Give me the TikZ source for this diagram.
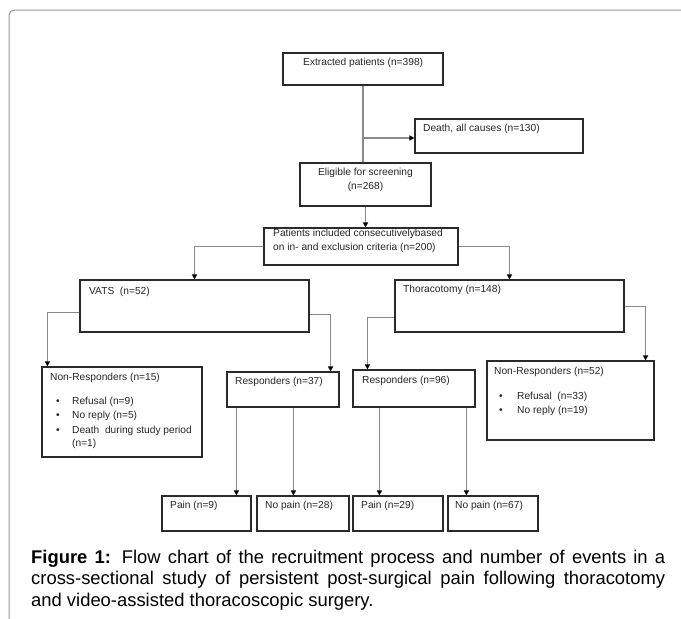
\documentclass[tikz,border=0pt]{standalone}
\usepackage{fontspec}
\setmainfont{Liberation Sans}
\usetikzlibrary{arrows.meta,calc}
\definecolor{conncol}{HTML}{8A8A8A}
\definecolor{boxcol}{HTML}{2A2A2A}
\definecolor{framecol}{HTML}{9A9A9A}
\tikzset{
  box/.style={draw=boxcol, line width=1.1pt, rectangle, inner sep=0pt, fill=white},
  lbl/.style={anchor=west, inner sep=0pt, font=\fontsize{10.2}{12}\selectfont, text=black!85},
  conn/.style={draw=conncol, line width=1.4pt},
  arr/.style={conn, -{Triangle[length=5pt,width=5pt,black]}}
}
\begin{document}
\begin{tikzpicture}[x=1pt,y=-1pt]
\useasboundingbox (0,0) rectangle (681,619);
% outer frame
\draw[framecol, line width=1pt, rounded corners=5pt] (9,619) -- (9,10) -- (681,10);

% boxes
\node[box, minimum width=160pt, minimum height=32pt] (ext) at (363,69) {};
\node[box, minimum width=168pt, minimum height=34pt] (death) at (499,136) {};
\node[box, minimum width=131pt, minimum height=43pt] (elig) at (365.5,184.5) {};
\node[box, minimum width=194pt, minimum height=37pt] (incl) at (361,246.5) {};
\node[box, minimum width=229pt, minimum height=52pt] (vats) at (194.5,306) {};
\node[box, minimum width=229pt, minimum height=52pt] (thor) at (509.5,306) {};
\node[box, minimum width=160pt, minimum height=90pt] (nrv) at (122,412) {};
\node[box, minimum width=112pt, minimum height=35pt] (rv) at (283,389.5) {};
\node[box, minimum width=122pt, minimum height=37pt] (rt) at (414,388.5) {};
\node[box, minimum width=167pt, minimum height=79pt] (nrt) at (570.5,400.5) {};
\node[box, minimum width=89pt, minimum height=35pt] (p9) at (206.5,513.5) {};
\node[box, minimum width=92pt, minimum height=35pt] (np28) at (303,513.5) {};
\node[box, minimum width=90pt, minimum height=35pt] (p29) at (398,513.5) {};
\node[box, minimum width=90pt, minimum height=35pt] (np67) at (493,513.5) {};

% labels
\node[lbl] (t-ext) at (303,63) {Extracted patients (n=398)};
\node[lbl] (t-death) at (423,129) {Death, all causes (n=130)};
\node[lbl, anchor=center, align=center, font=\fontsize{10.2}{13.5}\selectfont] (t-elig) at (365.5,180) {Eligible for screening\\(n=268)};
\node[lbl, align=left, font=\fontsize{10.2}{14}\selectfont] (t-incl) at (273,240.5) {Patients included consecutivelybased\\on in- and exclusion criteria (n=200)};
\node[lbl] (t-vats) at (89,292) {VATS\ \ (n=52)};
\node[lbl] (t-thor) at (403,290) {Thoracotomy (n=148)};
\node[lbl] (t-nrv) at (50,378) {Non-Responders (n=15)};
\node[lbl] (b-nrv1) at (56,402) {\textbullet};
\node[lbl] (b-nrv2) at (56,416) {\textbullet};
\node[lbl] (b-nrv3) at (56,431) {\textbullet};
\node[lbl] (t-nrv1) at (72,402) {Refusal (n=9)};
\node[lbl] (t-nrv2) at (72,416) {No reply (n=5)};
\node[lbl] (t-nrv3) at (72,431) {Death\ \ during study period};
\node[lbl] (t-nrv4) at (72,444) {(n=1)};
\node[lbl] (t-rv) at (235,382) {Responders (n=37)};
\node[lbl] (t-rt) at (362,381) {Responders (n=96)};
\node[lbl] (t-nrt) at (494,372) {Non-Responders (n=52)};
\node[lbl] (b-nrt1) at (499,397) {\textbullet};
\node[lbl] (b-nrt2) at (499,411) {\textbullet};
\node[lbl] (t-nrt1) at (517,397) {Refusal\ \ (n=33)};
\node[lbl] (t-nrt2) at (517,411) {No reply (n=19)};
\node[lbl] (t-p9) at (170,506) {Pain (n=9)};
\node[lbl] (t-np28) at (265,506) {No pain (n=28)};
\node[lbl] (t-p29) at (361,506) {Pain (n=29)};
\node[lbl] (t-np67) at (455,506) {No pain (n=67)};

% connectors
\coordinate (br) at (364,138);
\draw[conn] (ext.south) -- (ext.south |- elig.north);
\draw[arr] (br) -- (br -| death.west);
\draw[arr] (elig.south) -- (elig.south |- incl.north);
\draw[arr] (incl.west) -| (vats.north);
\draw[arr] (incl.east) -| (thor.north);

\coordinate (vl) at ($(vats.north west)+(0,33)$);
\coordinate (vr) at ($(vats.north east)+(0,35)$);
\coordinate (tl) at ($(thor.north west)+(0,38)$);
\coordinate (tr) at ($(thor.north east)+(0,27)$);
\coordinate (nrvin) at ($(nrv.north west)+(6,0)$);
\coordinate (rvin) at ($(rv.north east)+(-9,0)$);
\coordinate (rtin) at ($(rt.north west)+(15,0)$);
\coordinate (nrtin) at ($(nrt.north east)+(-9,0)$);
\draw[arr] (vl) -| (nrvin);
\draw[arr] (vr) -| (rvin);
\draw[arr] (tl) -| (rtin);
\draw[arr] (tr) -| (nrtin);

\coordinate (p9in) at ($(p9.north west)+(75,0)$);
\coordinate (np28in) at ($(np28.north west)+(37,0)$);
\coordinate (p29in) at ($(p29.north west)+(27,0)$);
\coordinate (np67in) at ($(np67.north west)+(19,0)$);
\draw[arr] (rv.south -| p9in) -- (p9in);
\draw[arr] (rv.south -| np28in) -- (np28in);
\draw[arr] (rt.south -| p29in) -- (p29in);
\draw[arr] (rt.south -| np67in) -- (np67in);

% caption
\node[anchor=north west, inner sep=0pt, text width=634pt, align=justify,
      font=\fontsize{18.4}{21.5}\selectfont] (cap) at (31,549.5)
  {\hyphenpenalty=10000 \textbf{Figure 1:} Flow chart of the recruitment process and number of events in a\linebreak cross-sectional study of persistent post-surgical pain following thoracotomy\linebreak and video-assisted thoracoscopic surgery.};
\end{tikzpicture}
\end{document}
